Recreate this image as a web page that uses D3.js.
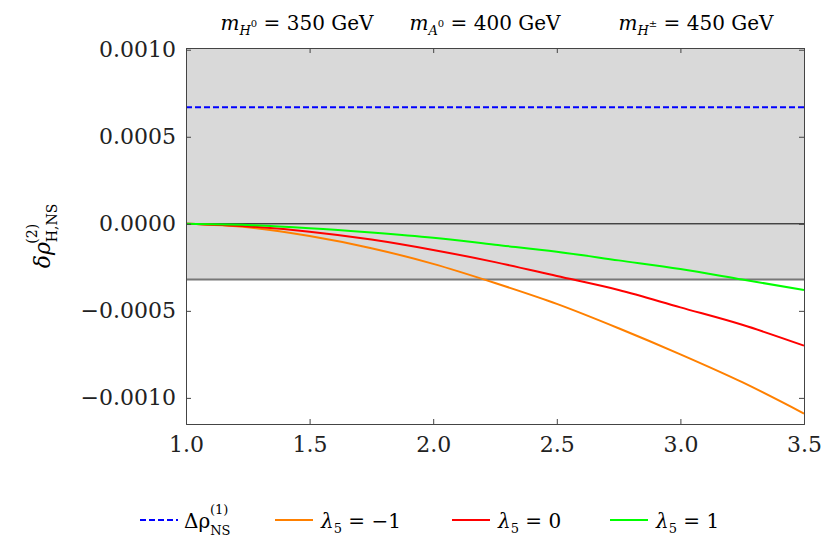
<!DOCTYPE html><html><head><meta charset="utf-8">
<script src="https://cdn.jsdelivr.net/npm/d3@7"></script>
<style>body{margin:0;background:#fff}svg text{font-family:"DejaVu Serif",serif !important}</style></head><body>
<svg id="c" width="830" height="554"></svg>
<script>
const xs=[1.0,1.25,1.5,1.75,2.0,2.25,2.5,2.75,3.0,3.25,3.5];
const orange=[0,-0.00002,-0.00007,-0.00014,-0.00023,-0.00034,-0.00046,-0.00060,-0.00075,-0.00091,-0.00109];
const red=[0,-0.000015,-0.000045,-0.00009,-0.00015,-0.00022,-0.00030,-0.00038,-0.00048,-0.00058,-0.00070];
const green=[0,-0.000007,-0.000025,-0.00005,-0.00008,-0.00012,-0.00016,-0.00021,-0.00026,-0.00032,-0.00038];
const blueLevel=0.00067, bandLow=-0.00032;
const xTicks=[1.0,1.5,2.0,2.5,3.0,3.5];
const yTicks=[0.0010,0.0005,0.0,-0.0005,-0.0010];
const svg=d3.select("#c");
const x=d3.scaleLinear().domain([1,3.5]).range([186,804]);
const y=d3.scaleLinear().domain([-0.00115,0.00101]).range([424,48]);
svg.append("rect").attr("x",x(1)).attr("y",y(0.00101)).attr("width",x(3.5)-x(1)).attr("height",y(bandLow)-y(0.00101)).attr("fill","#d9d9d9");
svg.append("line").attr("x1",x(1)).attr("x2",x(3.5)).attr("y1",y(bandLow)).attr("y2",y(bandLow)).attr("stroke","#777").attr("stroke-width",2);
svg.append("line").attr("x1",x(1)).attr("x2",x(3.5)).attr("y1",y(0)).attr("y2",y(0)).attr("stroke","#000").attr("stroke-width",1);
svg.append("line").attr("x1",x(1)).attr("x2",x(3.5)).attr("y1",y(blueLevel)).attr("y2",y(blueLevel)).attr("stroke","#0000ff").attr("stroke-width",2).attr("stroke-dasharray","6,3");
const line=d3.line().x((d,i)=>x(xs[i])).y(d=>y(d)).curve(d3.curveMonotoneX);
[[orange,"#ff8000"],[red,"#ff0000"],[green,"#00ff00"]].forEach(([s,c])=>svg.append("path").attr("d",line(s)).attr("fill","none").attr("stroke",c).attr("stroke-width",2));
const fr=svg.append("g");
fr.append("g").attr("transform","translate(0,424)").call(d3.axisBottom(x).tickValues(xTicks).tickFormat(d3.format(".1f")).tickSizeOuter(0).tickSize(-5));
fr.append("g").attr("transform","translate(0,48)").call(d3.axisTop(x).tickValues(xTicks).tickFormat("").tickSizeOuter(0).tickSize(-5));
fr.append("g").attr("transform","translate(186,0)").call(d3.axisLeft(y).tickValues(yTicks).tickFormat(d=>d3.format(".4f")(d).replace("-","\u2212")).tickSizeOuter(0).tickSize(-5));
fr.append("g").attr("transform","translate(804,0)").call(d3.axisRight(y).tickValues(yTicks).tickFormat("").tickSizeOuter(0).tickSize(-5));
fr.selectAll("g").attr("font-family",null);
fr.selectAll(".domain").attr("stroke","#444");
fr.selectAll(".tick line").attr("stroke","#444");
fr.selectAll("text").style("font-size","22px").attr("fill","#222");
fr.selectAll("g.tick text").each(function(){const t=d3.select(this);if(t.attr("dy")==="0.71em")t.attr("y",12);else t.attr("x",-10);});
function lab(px,sub,sup,val){const t=svg.append("text").attr("x",px).attr("y",30).attr("font-size",20).attr("text-anchor","middle");
t.append("tspan").attr("font-style","italic").text("m");
const s=t.append("tspan").attr("font-size",13).attr("dy",5);s.append("tspan").attr("font-style","italic").text(sub);
t.append("tspan").attr("font-size",10).attr("dy",-8).text(sup);
t.append("tspan").attr("dy",3).text(" = "+val+" GeV");}
lab(297,"H","0","350");lab(485,"A","0","400");lab(696,"H","±","450");
const yl=svg.append("text").attr("transform","translate(50,236) rotate(-90)").attr("text-anchor","middle").attr("font-size",22);
yl.append("tspan").attr("font-style","italic").text("δρ");
yl.append("tspan").attr("font-size",14).attr("dy",7).text("H,NS");
yl.append("tspan").attr("font-size",14).attr("dx",-40).attr("dy",-20).text("(2)");
const ly=520;
svg.append("line").attr("x1",140).attr("x2",178).attr("y1",ly).attr("y2",ly).attr("stroke","#0000ff").attr("stroke-width",2).attr("stroke-dasharray","6,3");
const t0=svg.append("text").attr("x",184).attr("y",ly+8).attr("font-size",20);
t0.append("tspan").text("Δρ");t0.append("tspan").attr("font-size",13).attr("dy",7).text("NS");
svg.append("text").attr("x",210).attr("y",ly-6).attr("font-size",13).text("(1)");
[[275,"#ff8000","−1"],[452,"#ff0000","0"],[610,"#00ff00","1"]].forEach(([px,c,v])=>{
svg.append("line").attr("x1",px).attr("x2",px+38).attr("y1",ly).attr("y2",ly).attr("stroke",c).attr("stroke-width",2);
const t=svg.append("text").attr("x",px+46).attr("y",ly+8).attr("font-size",20);
t.append("tspan").attr("font-style","italic").text("λ");t.append("tspan").attr("font-size",13).attr("dy",5).text("5");t.append("tspan").attr("dy",-5).text(" = "+v);});
</script></body></html>
